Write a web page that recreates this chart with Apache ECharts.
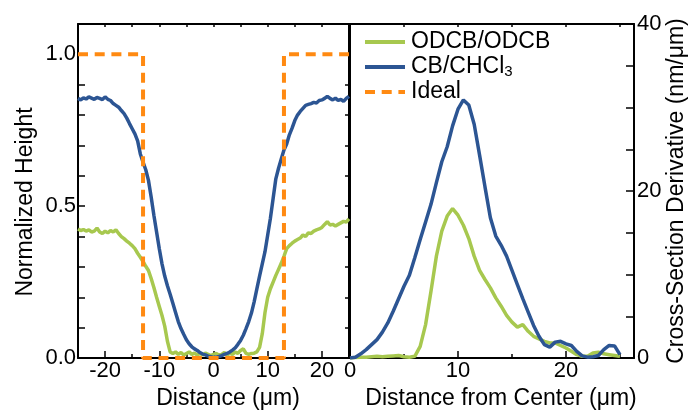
<!DOCTYPE html>
<html><head><meta charset="utf-8">
<script src="https://cdn.jsdelivr.net/npm/echarts@6/dist/echarts.min.js"></script>
<style>html,body{margin:0;padding:0;background:#fff}#c{width:688px;height:411px}</style>
</head><body><div id="c"></div>
<script>
// ---- Data ----
const distance = [-25,-24.5,-24,-23.5,-23,-22.5,-22,-21.5,-21,-20.5,-20,-19.5,-19,-18.5,-18,-17.5,-17,-16.5,-16,-15.5,-15,-14.5,-14,-13.5,-13,-12.5,-12,-11.5,-11,-10.5,-10,-9.5,-9,-8.5,-8,-7.5,-7,-6.5,-6,-5.5,-5,-4.5,-4,-3.5,-3,-2.5,-2,-1.5,-1,-0.5,0,0.5,1,1.5,2,2.5,3,3.5,4,4.5,5,5.5,6,6.5,7,7.5,8,8.5,9,9.5,10,10.5,11,11.5,12,12.5,13,13.5,14,14.5,15,15.5,16,16.5,17,17.5,18,18.5,19,19.5,20,20.5,21,21.5,22,22.5,23,23.5,24,24.5,25];
const cbHeight = [0.855,0.850,0.857,0.853,0.860,0.856,0.852,0.858,0.855,0.851,0.860,0.852,0.848,0.838,0.832,0.826,0.815,0.805,0.790,0.772,0.755,0.738,0.715,0.672,0.645,0.620,0.585,0.530,0.470,0.415,0.360,0.310,0.270,0.238,0.210,0.180,0.150,0.120,0.097,0.078,0.060,0.047,0.037,0.030,0.025,0.018,0.013,0.010,0.006,0.004,0.002,0.003,0.005,0.008,0.012,0.015,0.020,0.026,0.033,0.045,0.058,0.075,0.097,0.120,0.148,0.185,0.228,0.270,0.310,0.350,0.405,0.460,0.525,0.590,0.625,0.655,0.685,0.705,0.735,0.757,0.782,0.800,0.812,0.822,0.832,0.835,0.838,0.842,0.840,0.848,0.850,0.855,0.862,0.855,0.850,0.856,0.848,0.852,0.845,0.855,0.862];
const odcbHeight = [0.425,0.420,0.423,0.418,0.422,0.415,0.418,0.428,0.415,0.410,0.418,0.412,0.420,0.415,0.422,0.410,0.400,0.393,0.385,0.378,0.370,0.360,0.345,0.332,0.318,0.302,0.288,0.262,0.232,0.200,0.170,0.140,0.105,0.055,0.020,0.015,0.020,0.012,0.018,0.010,0.015,0.020,0.012,0.016,0.010,0.015,0.010,0.016,0.012,0.008,0.012,0.015,0.010,0.012,0.018,0.010,0.015,0.012,0.020,0.015,0.025,0.030,0.015,0.012,0.015,0.016,0.020,0.035,0.080,0.150,0.200,0.228,0.250,0.272,0.292,0.312,0.335,0.360,0.370,0.378,0.385,0.390,0.395,0.405,0.400,0.412,0.410,0.418,0.422,0.425,0.430,0.440,0.449,0.438,0.440,0.435,0.440,0.445,0.450,0.448,0.458];
const idealDistance = [-25,-13,-13,13,13,25];
const idealHeight = [1,1,0,0,1,1];

const centerDistance = [0,0.5,1,1.5,2,2.5,3,3.5,4,4.5,5,5.5,6,6.5,7,7.5,8,8.5,9,9.5,10,10.5,11,11.5,12,12.5,13,13.5,14,14.5,15,15.5,16,16.5,17,17.5,18,18.5,19,19.5,20,20.5,21,21.5,22,22.5,23,23.5,24,24.5,25];
const cbDeriv = [0,0.1,0.5,1.0,1.6,2.2,3.1,4.2,5.6,7.1,8.6,9.9,12.0,14.2,16.3,18.4,21.0,23.5,25.3,27.8,29.8,30.9,30.3,28.0,24.3,20.5,16.8,14.6,13.5,12.2,10.5,8.8,7.1,5.5,3.9,2.6,1.6,1.3,1.9,2.0,1.7,1.5,0.8,0.25,0.1,0.15,0.3,1.0,1.5,1.45,0.4];
const odcbDeriv = [0,0.05,0.1,0.1,0.15,0.2,0.15,0.2,0.25,0.3,0.15,0.1,0.2,1.4,4.0,8.0,12.2,15.2,17.0,17.9,17.1,15.9,14.3,12.2,10.5,9.4,8.4,7.2,6.2,5.1,4.3,3.7,4.0,3.2,2.6,2.3,2.0,1.8,1.8,1.5,1.2,0.8,0.4,0.2,0.2,0.6,0.7,0.5,0.4,0.3,0.2];

const distanceTickLabels = [-20,-10,0,10,20];
const heightTickLabels = ['0.0','0.5','1.0'];
const centerTickLabels = [0,10,20];
const derivTickLabels = [0,20,40];
const seriesNames = ['ODCB/ODCB','CB/CHCl3','Ideal'];

// ---- Style ----
const FONT = 'Liberation Sans';
const GREEN = '#A7C84F', BLUE = '#2C5593', ORANGE = '#FF8A12';
const zip = (xs, ys) => xs.map((x, i) => [x, ys[i]]);
const line = {onZero: false, lineStyle: {color: '#000', width: 2}};
const noLabel = {show: false};
const tick = (len, w) => ({show: true, inside: true, length: len, lineStyle: {color: '#000', width: w || 1.5}});
const lbl = (fmt, margin) => ({show: true, color: '#000', fontFamily: FONT, fontSize: 22, margin: margin, formatter: fmt});
const G = {outerBoundsMode: 'none', containLabel: false, top: 24, height: 334};

const chart = echarts.init(document.getElementById('c'), null, {renderer: 'canvas'});
chart.setOption({
  animation: false,
  backgroundColor: '#fff',
  grid: [
    Object.assign({left: 78, width: 271}, G),
    Object.assign({left: 350, width: 284}, G),
    Object.assign({left: 78 + 271 * 5 / 50, width: 271 * 40 / 50}, G),
    Object.assign({left: 350, width: 284 * 20 / 26.3}, G)
  ],
  xAxis: [
    {gridIndex: 0, type: 'value', position: 'bottom', min: -25, max: 25, interval: 5,
     axisLine: line, axisTick: tick(4), splitLine: {show: false},
     axisLabel: lbl(v => distanceTickLabels.includes(v) ? String(v) : '', 2),
     name: 'Distance (μm)', nameLocation: 'middle', nameGap: 29,
     nameTextStyle: {color: '#000', fontFamily: FONT, fontSize: 23, padding: [0, 0, 0, 29]}},
    {gridIndex: 0, type: 'value', position: 'top', min: -25, max: 25, interval: 5,
     axisLine: line, axisTick: tick(3), axisLabel: noLabel, splitLine: {show: false}},
    {gridIndex: 1, type: 'value', position: 'bottom', min: 0, max: 26.3, interval: 5,
     axisLine: line, axisTick: tick(4), splitLine: {show: false},
     axisLabel: lbl(v => centerTickLabels.includes(v) ? String(v) : '', 2),
     name: 'Distance from Center (μm)', nameLocation: 'middle', nameGap: 29,
     nameTextStyle: {color: '#000', fontFamily: FONT, fontSize: 23, padding: [0, 0, 0, 18]}},
    {gridIndex: 1, type: 'value', position: 'top', min: 0, max: 26.3, interval: 5,
     axisLine: line, axisTick: tick(3), axisLabel: noLabel, splitLine: {show: false}},
    {gridIndex: 2, type: 'value', position: 'bottom', min: -20, max: 20, interval: 10,
     axisLine: {show: false, onZero: false}, axisTick: tick(7), axisLabel: noLabel, splitLine: {show: false}},
    {gridIndex: 3, type: 'value', position: 'bottom', min: 0, max: 20, interval: 10,
     axisLine: {show: false, onZero: false}, axisTick: tick(7), axisLabel: noLabel, splitLine: {show: false}}
  ],
  yAxis: [
    {gridIndex: 0, type: 'value', position: 'left', min: 0, max: 1.1, interval: 0.1,
     axisLine: line, axisTick: tick(7), splitLine: {show: false},
     axisLabel: lbl(v => { const s = v.toFixed(1); return heightTickLabels.includes(s) ? s : ''; }, 2),
     name: 'Normalized Height', nameLocation: 'middle', nameGap: 41, nameRotate: 90,
     nameTextStyle: {color: '#000', fontFamily: FONT, fontSize: 23, padding: [0, 22, 0, 0]}},
    {gridIndex: 0, type: 'value', position: 'right', min: 0, max: 1.1, interval: 0.1,
     axisLine: line, axisTick: tick(4), axisLabel: noLabel, splitLine: {show: false}},
    {gridIndex: 1, type: 'value', position: 'right', min: 0, max: 40, interval: 5,
     axisLine: line, axisTick: tick(8), splitLine: {show: false},
     axisLabel: lbl(v => derivTickLabels.includes(v) ? String(v) : '', 3),
     name: 'Cross-Section Derivative (nm/μm)', nameLocation: 'middle', nameGap: 30, nameRotate: 90,
     nameTextStyle: {color: '#000', fontFamily: FONT, fontSize: 23}},
    {gridIndex: 1, type: 'value', position: 'left', min: 0, max: 40,
     axisLine: line, axisTick: {show: false}, axisLabel: noLabel, splitLine: {show: false}},
    {gridIndex: 2, type: 'value', min: 0, max: 1, show: false, axisLine: {onZero: false}},
    {gridIndex: 3, type: 'value', min: 0, max: 1, show: false, axisLine: {onZero: false}}
  ],
  legend: {
    data: seriesNames, orient: 'vertical', left: 358, top: 25,
    itemWidth: 40, itemHeight: 14, itemGap: 1, selectedMode: false,
    itemStyle: {opacity: 0}, lineStyle: {width: 4},
    formatter: n => n === 'CB/CHCl3' ? 'CB/CHCl{sub|3}' : n,
    textStyle: {color: '#000', fontFamily: FONT, fontSize: 23, lineHeight: 24, padding: [0, 0, 0, 1],
      rich: {sub: {color: '#000', fontFamily: FONT, fontSize: 15, lineHeight: 10, verticalAlign: 'bottom'}}}
  },
  series: [
    {type: 'line', name: 'ODCB/ODCB', xAxisIndex: 0, yAxisIndex: 0, data: zip(distance, odcbHeight),
     symbol: 'none', lineStyle: {color: GREEN, width: 3.5}, itemStyle: {color: GREEN}},
    {type: 'line', name: 'CB/CHCl3', xAxisIndex: 0, yAxisIndex: 0, data: zip(distance, cbHeight),
     symbol: 'none', lineStyle: {color: BLUE, width: 3.5}, itemStyle: {color: BLUE}},
    {type: 'line', name: 'ODCB/ODCB', xAxisIndex: 2, yAxisIndex: 2, data: zip(centerDistance, odcbDeriv),
     symbol: 'none', lineStyle: {color: GREEN, width: 3.5}, itemStyle: {color: GREEN}},
    {type: 'line', name: 'CB/CHCl3', xAxisIndex: 2, yAxisIndex: 2, data: zip(centerDistance, cbDeriv),
     symbol: 'none', lineStyle: {color: BLUE, width: 3.5}, itemStyle: {color: BLUE}},
    {type: 'line', name: 'Ideal', xAxisIndex: 0, yAxisIndex: 0, data: zip(idealDistance, idealHeight),
     symbol: 'none', lineStyle: {color: ORANGE, width: 4, type: [10, 6.7]}, itemStyle: {color: ORANGE}}
  ]
});
</script></body></html>
